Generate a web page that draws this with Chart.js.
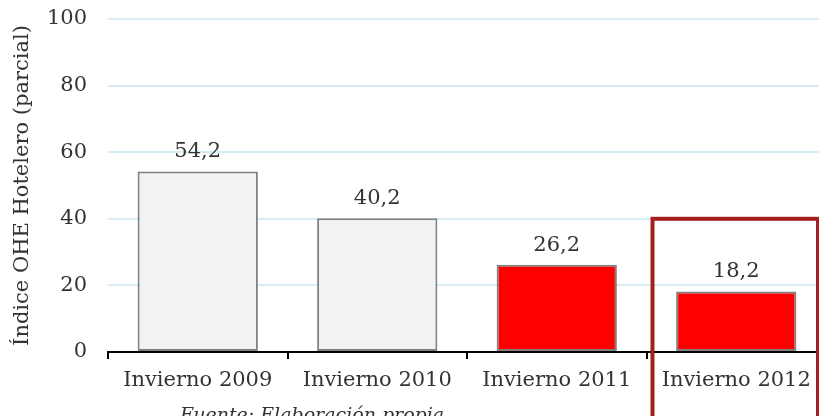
<!DOCTYPE html>
<html>
<head>
<meta charset="utf-8">
<script src="https://cdn.jsdelivr.net/npm/chart.js@4"></script>
<style>
  html, body { margin: 0; padding: 0; background: #fff; overflow: hidden; }
  #wrap { position: relative; width: 819px; height: 416px; overflow: hidden; }
  #fuente {
    position: absolute; left: 180px; top: 405px; line-height: 1;
    font-family: "DejaVu Serif", serif; font-style: italic; font-size: 19px; color: #333;
  }
</style>
</head>
<body>
<div id="wrap">
  <canvas id="chart" width="826" height="416"></canvas>
  <div id="fuente">Fuente: Elaboración propia</div>
</div>
<script>
const categories = ['Invierno 2009', 'Invierno 2010', 'Invierno 2011', 'Invierno 2012'];
const values = [54.2, 40.2, 26.2, 18.2];
const barColors = ['#f2f2f2', '#f2f2f2', '#ff0000', '#ff0000'];
const yTicks = [0, 20, 40, 60, 80, 100];
const yTitle = 'Índice OHE Hotelero (parcial)';
const highlightIndex = 3;
const highlightTop = 40;

const serif = '"DejaVu Serif", serif';
const textColor = '#333';
const fontSize = 21;

// value labels above bars, comma decimals
const valueLabels = {
  id: 'valueLabels',
  afterDatasetsDraw(chart) {
    const ctx = chart.ctx;
    const meta = chart.getDatasetMeta(0);
    ctx.save();
    ctx.font = fontSize + 'px ' + serif;
    ctx.fillStyle = textColor;
    ctx.textAlign = 'center';
    ctx.textBaseline = 'bottom';
    meta.data.forEach((bar, i) => {
      ctx.fillText(values[i].toFixed(1).replace('.', ','), bar.x, bar.y - 9);
    });
    ctx.restore();
  }
};

// dark red frame around the last category
const highlightBox = {
  id: 'highlightBox',
  afterDraw(chart) {
    const x = chart.scales.x, y = chart.scales.y;
    const half = (x.getPixelForValue(1) - x.getPixelForValue(0)) / 2;
    const cx = x.getPixelForValue(highlightIndex);
    const ctx = chart.ctx;
    ctx.save();
    ctx.strokeStyle = '#a3201f';
    ctx.lineWidth = 4;
    ctx.strokeRect(cx - half + 6, y.getPixelForValue(highlightTop), 2 * half - 14, chart.height);
    ctx.restore();
  }
};

new Chart(document.getElementById('chart'), {
  type: 'bar',
  data: {
    labels: categories,
    datasets: [{
      data: values,
      backgroundColor: barColors,
      borderColor: '#808080',
      borderWidth: 2,
      borderSkipped: false,
      barPercentage: 0.67,
      categoryPercentage: 1
    }]
  },
  options: {
    responsive: false,
    animation: false,
    layout: { padding: { top: 19, left: 0, right: 0, bottom: 0 } },
    plugins: { legend: { display: false }, tooltip: { enabled: false } },
    scales: {
      x: {
        afterFit: (s) => { s.height = 64; s.paddingLeft = 0; s.paddingRight = 0; },
        grid: { drawOnChartArea: false, drawTicks: true, tickLength: 7, color: '#000', lineWidth: 2, offset: true },
        border: { display: true, color: '#000', width: 2 },
        ticks: { color: textColor, font: { family: serif, size: fontSize }, padding: 9, maxRotation: 0 }
      },
      y: {
        min: 0,
        max: 100,
        afterFit: (s) => { s.width = 108; s.paddingTop = 0; s.paddingBottom = 0; },
        afterBuildTicks: (s) => { s.ticks = yTicks.map(v => ({ value: v })); },
        grid: { color: '#d7ecf4', lineWidth: 2, drawTicks: false },
        border: { display: false },
        ticks: { color: textColor, font: { family: serif, size: fontSize }, padding: 21 },
        title: { display: true, text: yTitle, color: textColor, font: { family: serif, size: fontSize }, padding: 10 }
      }
    }
  },
  plugins: [valueLabels, highlightBox]
});
</script>
</body>
</html>
